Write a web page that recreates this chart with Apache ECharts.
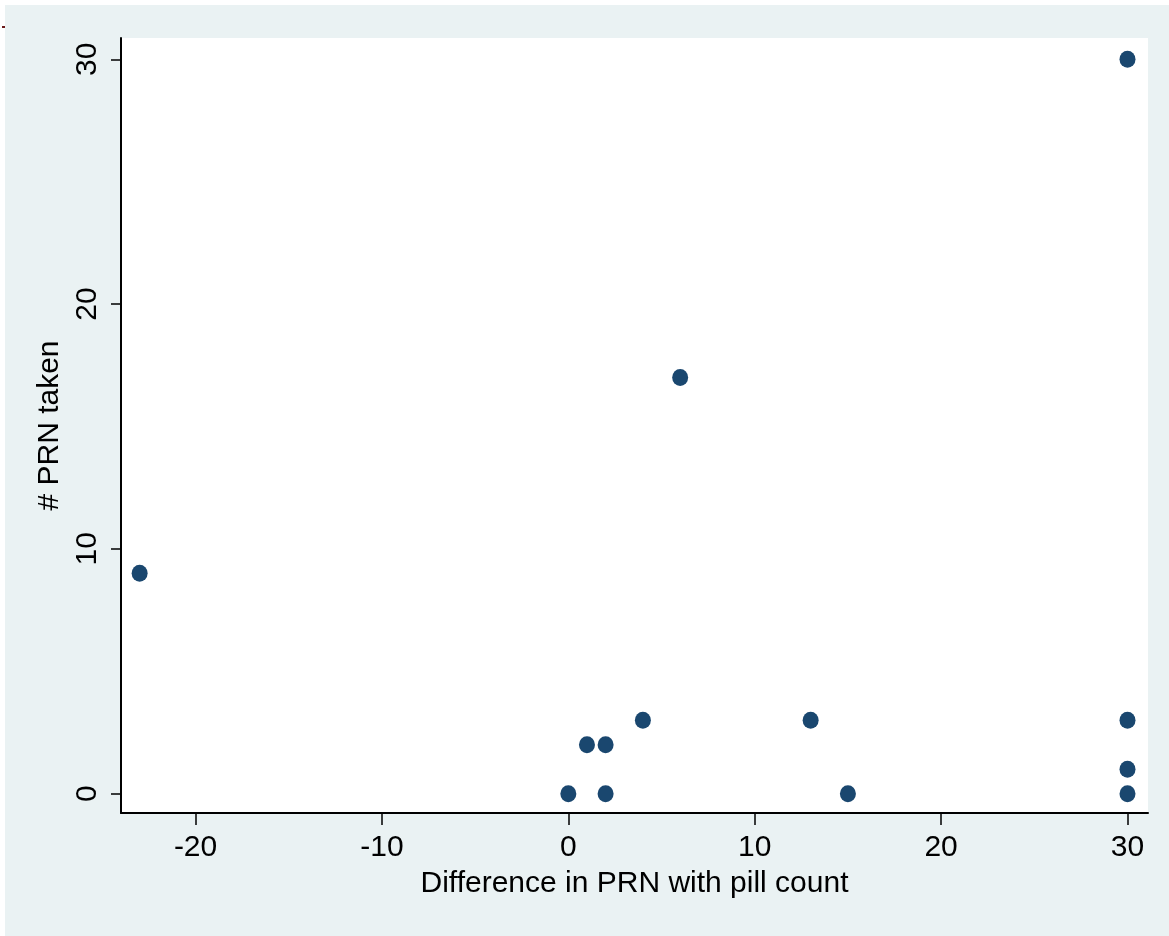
<!DOCTYPE html>
<html style="height: 100%">
    <head>
        <meta charset="utf-8">
    </head>
    <body style="height: 100%; margin: 0; background: #fff">
        <div id="container" style="width: 1169px; height: 936px"></div>

    <script src="https://cdn.jsdelivr.net/npm/echarts@6/dist/echarts.min.js"></script>
        <script type="text/javascript">
// difference in PRN with pill count (x) vs # PRN taken (y)
var diffPRN  = [-23, 0, 1, 2, 2, 4, 6, 13, 15, 30, 30, 30, 30];
var prnTaken = [  9, 0, 2, 2, 0, 3, 17, 3, 0, 30, 3, 1, 0];
var xTicks = [-20, -10, 0, 10, 20, 30];
var yTicks = [0, 10, 20, 30];

var dom = document.getElementById("container");
var myChart = echarts.init(dom);
var font = 'Liberation Sans, Arial, Helvetica, sans-serif';

var points = diffPRN.map(function (x, i) {
    return [x, prnTaken[i]];
});

var option = {
    backgroundColor: 'transparent',
    animation: false,
    graphic: [{
        type: 'rect',
        z: -10,
        shape: { x: 5, y: 5, width: 1164, height: 931 },
        style: { fill: '#EAF2F3' }
    }, {
        type: 'rect',
        shape: { x: 2, y: 26, width: 3, height: 2 },
        style: { fill: '#6B1A1A' }
    }],
    grid: {
        left: 121,
        right: 21,
        top: 38,
        bottom: 123,
        show: true,
        backgroundColor: '#fff',
        borderWidth: 0
    },
    xAxis: {
        type: 'value',
        min: -24,
        max: 31.1,
        name: 'Difference in PRN with pill count',
        nameLocation: 'middle',
        nameGap: 56,
        nameTextStyle: { fontFamily: font, fontSize: 30, color: '#000' },
        axisLine: { show: true, onZero: false, lineStyle: { color: '#000', width: 2 } },
        axisTick: { show: true, length: 12, customValues: xTicks, lineStyle: { color: '#000', width: 1.5 } },
        axisLabel: { customValues: xTicks, margin: 20, fontFamily: font, fontSize: 30, color: '#000' },
        splitLine: { show: false }
    },
    yAxis: {
        type: 'value',
        min: -0.79,
        max: 30.87,
        name: '# PRN taken',
        nameLocation: 'middle',
        nameGap: 51,
        nameTextStyle: { fontFamily: font, fontSize: 30, color: '#000' },
        axisLine: { show: true, onZero: false, lineStyle: { color: '#000', width: 2 } },
        axisTick: { show: true, length: 10, customValues: yTicks, lineStyle: { color: '#000', width: 1.5 } },
        axisLabel: { customValues: yTicks, rotate: 90, margin: 18, fontFamily: font, fontSize: 30, color: '#000' },
        splitLine: { show: false }
    },
    series: [{
        type: 'scatter',
        data: points,
        symbol: 'circle',
        symbolSize: [16, 17],
        itemStyle: { color: '#1A476F', opacity: 1 },
        markLine: {
            silent: true,
            symbol: 'none',
            label: { show: false },
            lineStyle: { color: '#E6EEF0', width: 2, type: 'solid' },
            z: -1,
            data: yTicks.map(function (v) { return { yAxis: v }; })
        }
    }]
};

myChart.setOption(option);
        </script>
    </body>
</html>
